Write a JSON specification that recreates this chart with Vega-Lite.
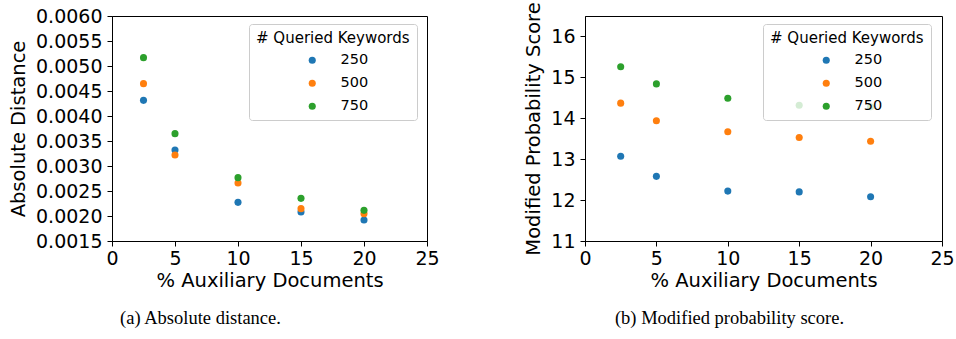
{
  "$schema": "https://vega.github.io/schema/vega-lite/v6.json",
  "padding": {"left": 8, "top": 1, "right": 0, "bottom": 0},
  "background": "white",
  "config": {
    "font": "DejaVu Sans",
    "view": {"stroke": "black", "strokeWidth": 1},
    "axis": {
      "grid": false,
      "labelFont": "DejaVu Sans",
      "titleFont": "DejaVu Sans",
      "labelFontSize": 19,
      "titleFontSize": 19.5,
      "titleFontWeight": "normal",
      "labelColor": "black",
      "titleColor": "black",
      "domainColor": "black",
      "tickColor": "black",
      "tickSize": 5,
      "titleLimit": 500,
      "labelFlush": false,
      "labelOverlap": false
    },
    "axisX": {"titlePadding": 3, "labelPadding": 3},
    "axisY": {"titlePadding": 7, "labelPadding": 5},
    "legend": {
      "titleFont": "DejaVu Sans",
      "labelFont": "DejaVu Sans",
      "titleFontSize": 15,
      "labelFontSize": 14.5,
      "titleFontWeight": "normal",
      "titleColor": "black",
      "labelColor": "black",
      "fillColor": "rgba(255,255,255,0.8)",
      "strokeColor": "#cccccc",
      "cornerRadius": 3,
      "padding": 7,
      "symbolType": "circle",
      "symbolSize": 50,
      "symbolOpacity": 1,
      "symbolStrokeWidth": 0,
      "symbolOffset": 49,
      "labelOffset": 21,
      "rowPadding": 8,
      "titlePadding": 7,
      "titleAnchor": "start"
    },
    "title": {"font": "Liberation Serif", "fontSize": 18.5, "fontWeight": "normal", "color": "black"}
  },
  "data": {
    "values": [
      {"pct": 2.5, "kw": "250", "dist": 0.004313, "mps": 13.07},
      {"pct": 2.5, "kw": "500", "dist": 0.004647, "mps": 14.37},
      {"pct": 2.5, "kw": "750", "dist": 0.005167, "mps": 15.26},
      {"pct": 5, "kw": "250", "dist": 0.00332, "mps": 12.58},
      {"pct": 5, "kw": "500", "dist": 0.00322, "mps": 13.94},
      {"pct": 5, "kw": "750", "dist": 0.003647, "mps": 14.84},
      {"pct": 10, "kw": "250", "dist": 0.002273, "mps": 12.22},
      {"pct": 10, "kw": "500", "dist": 0.00266, "mps": 13.67},
      {"pct": 10, "kw": "750", "dist": 0.002767, "mps": 14.49},
      {"pct": 15, "kw": "250", "dist": 0.00208, "mps": 12.2},
      {"pct": 15, "kw": "500", "dist": 0.002147, "mps": 13.53},
      {"pct": 15, "kw": "750", "dist": 0.002353, "mps": 14.32},
      {"pct": 20, "kw": "250", "dist": 0.00192, "mps": 12.08},
      {"pct": 20, "kw": "500", "dist": 0.002047, "mps": 13.44},
      {"pct": 20, "kw": "750", "dist": 0.002113, "mps": 14.28}
    ]
  },
  "spacing": 83,
  "resolve": {"scale": {"color": "independent", "y": "independent"}, "legend": {"color": "independent"}},
  "hconcat": [
    {
      "width": 315,
      "height": 225,
      "title": {"text": "(a) Absolute distance.", "orient": "bottom", "anchor": "middle", "frame": "group", "dx": -69, "offset": 19},
      "mark": {"type": "circle", "size": 50, "opacity": 1},
      "encoding": {
        "x": {"field": "pct", "type": "quantitative", "scale": {"domain": [0, 25], "nice": false}, "axis": {"values": [0, 5, 10, 15, 20, 25], "title": "% Auxiliary Documents"}},
        "y": {"field": "dist", "type": "quantitative", "scale": {"domain": [0.0015, 0.006], "zero": false, "nice": false}, "axis": {"values": [0.0015, 0.002, 0.0025, 0.003, 0.0035, 0.004, 0.0045, 0.005, 0.0055, 0.006], "format": ".4f", "title": "Absolute Distance"}},
        "color": {"field": "kw", "type": "nominal", "scale": {"domain": ["250", "500", "750"], "range": ["#1f77b4", "#ff7f0e", "#2ca02c"]}, "legend": {"title": "# Queried Keywords", "orient": "none", "legendX": 137, "legendY": 8}}
      }
    },
    {
      "width": 357,
      "height": 225,
      "title": {"text": "(b) Modified probability score.", "orient": "bottom", "anchor": "middle", "frame": "group", "dx": -34, "offset": 19},
      "mark": {"type": "circle", "size": 50, "opacity": 1},
      "encoding": {
        "x": {"field": "pct", "type": "quantitative", "scale": {"domain": [0, 25], "nice": false}, "axis": {"values": [0, 5, 10, 15, 20, 25], "title": "% Auxiliary Documents"}},
        "y": {"field": "mps", "type": "quantitative", "scale": {"domain": [11, 16.5], "zero": false, "nice": false}, "axis": {"values": [11, 12, 13, 14, 15, 16], "format": "d", "title": "Modified Probability Score"}},
        "color": {"field": "kw", "type": "nominal", "scale": {"domain": ["250", "500", "750"], "range": ["#1f77b4", "#ff7f0e", "#2ca02c"]}, "legend": {"title": "# Queried Keywords", "orient": "none", "legendX": 178, "legendY": 8}}
      }
    }
  ]
}
